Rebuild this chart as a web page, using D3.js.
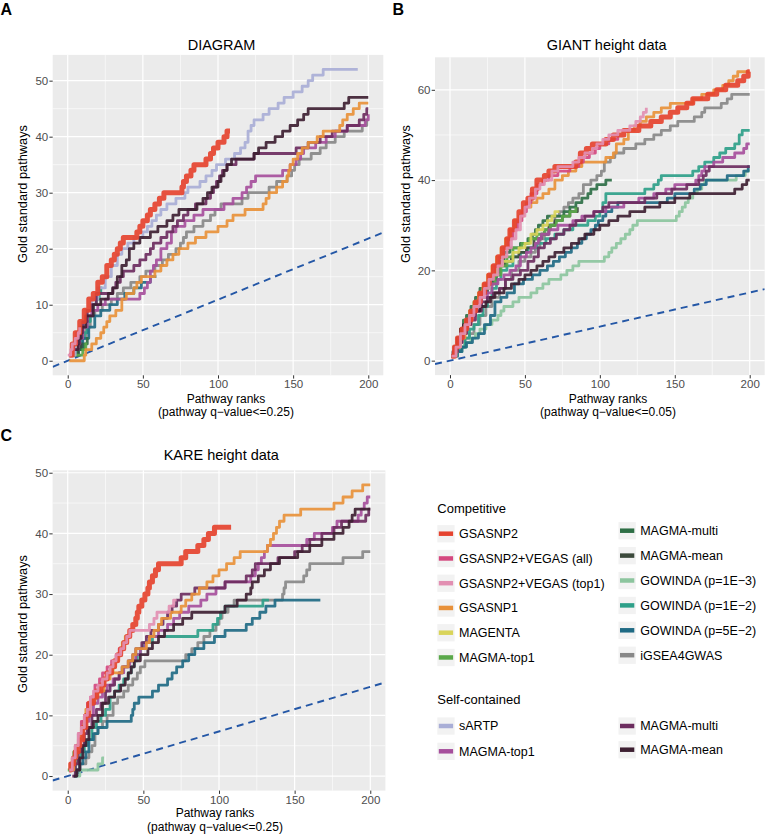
<!DOCTYPE html>
<html><head><meta charset="utf-8">
<script src="https://cdn.jsdelivr.net/npm/d3@7"></script>
<style>body{margin:0;background:#fff}svg{display:block}text{font-family:"Liberation Sans",Arial,Helvetica,sans-serif}</style>
</head><body><svg id="c" width="765" height="836"></svg>
<script>
// ---------------- DATA ----------------
const methodKeys = ["gsasnp2","vegasAll","vegasTop1","gsasnp1","magenta","magmaTop1C","magmaMultiC","magmaMeanC","gow3","gow2","gow5","igsea","sartp","magmaTop1S","magmaMultiS","magmaMeanS"];
const methodLabels = ["GSASNP2","GSASNP2+VEGAS (all)","GSASNP2+VEGAS (top1)","GSASNP1","MAGENTA","MAGMA-top1","MAGMA-multi","MAGMA-mean","GOWINDA (p=1E\u22123)","GOWINDA (p=1E\u22122)","GOWINDA (p=5E\u22122)","iGSEA4GWAS","sARTP","MAGMA-top1","MAGMA-multi","MAGMA-mean"];
const methodColors = ["#E5432F","#D4487F","#E28FB2","#E8913A","#D9D45A","#5AA84A","#2E6F46","#3C4A3C","#8CC59E","#2EA089","#1F6A84","#888888","#A9AED6","#A64F9C","#6C2D5F","#3E2032"];
const competitiveKeys = methodKeys.slice(0,12);
const selfKeys = methodKeys.slice(12);
const drawOrder = ["igsea","gow3","gow2","gow5","magmaMeanC","magmaMultiC","magmaTop1C","magenta","sartp","magmaTop1S","magmaMultiS","magmaMeanS","gsasnp1","vegasAll","gsasnp2","vegasTop1"];

const panelTitles = ["DIAGRAM","GIANT height data","KARE height data"];
const panelLetters = ["A","B","C"];
const xTitle = "Pathway ranks";
const xSubtitles = ["(pathway q\u2212value<=0.25)","(pathway q\u2212value<=0.05)","(pathway q\u2212value<=0.25)"];
const yTitle = "Gold standard pathways";
const xTicks = [0,50,100,150,200];
const yTicksA = [0,10,20,30,40,50];
const yTicksB = [0,20,40,60];
const yTicksC = [0,10,20,30,40,50];
const randomSlopes = [0.109,0.0755,0.0735];

// Panel A: DIAGRAM  ([rank, cumulative gold-standard count] step points)
const A_gsasnp2 = [[1,1],[3,3],[5,5],[8,7],[11,9],[14,11],[17,12],[20,14],[23,15],[26,17],[29,18],[31,19],[33,20],[35,21],[37,22],[46,23],[48,24],[50,25],[53,26],[55,27],[58,28],[61,29],[64,30],[76,31],[77,32],[79,33],[82,34],[84,35],[92,36],[95,37],[97,38],[100,39],[104,40],[106,41],[108,41]];
const A_vegasAll = [[1,1],[3,2],[4,3],[6,5],[7,5]];
const A_vegasTop1 = [[0,1],[2,2],[3,3],[5,4],[7,5],[8,6]];
const A_gsasnp1 = [[1,0],[11,1],[12,2],[16,3],[19,4],[22,5],[24,6],[26,7],[28,8],[32,9],[36,11],[39,12],[44,13],[46,14],[49,15],[58,16],[62,17],[66,18],[70,19],[74,20],[80,21],[85,22],[92,23],[100,24],[106,25],[110,26],[118,27],[130,28],[132,29],[134,30],[139,31],[143,32],[146,33],[147,34],[148,35],[150,36],[153,37],[156,38],[160,39],[166,40],[170,41],[181,42],[183,43],[186,44],[190,45],[194,46],[200,46]];
const A_magenta = [[1,1],[3,2],[5,4],[6,4]];
const A_magmaTop1C = [[3,1],[8,1],[10,2],[12,3],[13,3]];
const A_magmaMultiC = [[3,1],[6,2],[9,2],[11,3],[13,4],[14,4]];
const A_magmaMeanC = [[4,1],[7,2],[9,3],[10,3]];
const A_gow3 = [];
const A_gow2 = [[4,1],[7,2],[9,4],[11,5],[13,7],[15,8],[17,10],[19,11],[21,12],[22,13],[23,13]];
const A_gow5 = [[4,1],[7,2],[10,4],[14,6],[18,8],[22,9],[28,10],[33,11],[38,12],[44,13],[49,14],[55,15],[59,15]];
const A_igsea = [[6,2],[9,4],[12,6],[15,8],[18,9],[23,10],[29,11],[33,12],[37,13],[42,14],[48,15],[52,16],[58,17],[63,18],[67,19],[72,20],[75,21],[77,22],[79,23],[84,24],[90,25],[95,26],[98,27],[102,28],[116,29],[120,30],[134,31],[139,32],[146,33],[149,34],[151,35],[154,36],[162,37],[168,38],[172,39],[178,40],[184,41],[196,42],[199,43],[200,43]];
const A_sartp = [[3,1],[5,3],[8,6],[12,9],[16,11],[20,13],[25,15],[29,17],[33,19],[36,20],[40,21],[44,22],[50,23],[53,24],[56,25],[59,26],[62,27],[66,28],[72,29],[78,30],[80,31],[88,32],[92,33],[96,34],[99,35],[105,36],[111,37],[115,38],[118,39],[120,41],[122,42],[124,43],[130,44],[134,45],[140,46],[144,47],[150,48],[156,49],[160,50],[163,51],[170,52],[193,52]];
const A_magmaTop1S = [[4,2],[7,4],[10,6],[13,8],[16,9],[20,10],[25,11],[48,12],[51,13],[53,14],[55,16],[57,17],[59,18],[62,20],[66,21],[69,23],[72,24],[78,25],[84,26],[90,27],[104,28],[110,29],[116,30],[119,31],[122,32],[125,33],[143,34],[148,35],[152,36],[155,37],[157,38],[165,39],[172,40],[178,41],[186,42],[198,43],[200,44]];
const A_magmaMultiS = [[6,3],[8,5],[10,7],[13,9],[16,10],[19,12],[30,13],[32,14],[35,15],[37,16],[44,17],[48,18],[52,19],[55,20],[57,21],[62,22],[66,23],[70,24],[73,25],[77,26],[80,27],[85,28],[92,29],[95,30],[97,31],[99,32],[101,33],[103,34],[106,35],[112,36],[124,37],[152,38],[160,39],[168,40],[176,41],[186,42],[194,43],[197,44],[199,45],[200,45]];
const A_magmaMeanS = [[5,2],[7,4],[9,6],[12,8],[17,10],[22,11],[27,12],[30,13],[33,15],[36,17],[39,18],[41,20],[44,21],[48,22],[55,23],[60,24],[66,25],[70,26],[74,27],[86,28],[90,29],[93,30],[96,31],[100,32],[102,33],[104,34],[106,35],[109,36],[124,37],[127,38],[132,39],[138,40],[143,41],[148,42],[153,43],[157,44],[160,45],[184,46],[187,47],[200,47]];

// Panel B: GIANT height data
const B_gsasnp2 = [[1,1],[3,3],[5,5],[8,7],[11,9],[14,11],[17,13],[20,15],[23,17],[26,19],[29,21],[32,23],[35,25],[38,27],[40,29],[43,31],[46,33],[49,35],[52,36],[55,38],[58,40],[63,41],[66,42],[70,43],[84,44],[87,46],[91,47],[95,48],[104,49],[109,50],[116,51],[126,52],[134,53],[141,54],[147,55],[152,56],[158,57],[162,58],[172,59],[178,60],[184,61],[192,62],[196,63],[199,64],[200,64]];
const B_vegasAll = [[1,1],[3,3],[6,5],[9,7],[12,9],[15,11],[18,13],[21,15],[24,17],[27,19],[30,21],[33,23],[36,25],[39,27],[42,29],[45,31],[48,33],[51,35],[54,37],[58,39],[62,40],[66,41],[72,42],[80,43],[86,44],[89,45],[93,46],[97,47],[100,48],[106,49],[112,50]];
const B_vegasTop1 = [[1,1],[4,3],[7,6],[10,8],[13,10],[16,12],[20,14],[23,16],[26,18],[29,19],[32,21],[35,23],[38,25],[41,27],[44,29],[47,32],[50,34],[53,36],[57,38],[60,39],[63,40],[68,42],[72,43],[82,44],[86,45],[90,46],[95,47],[98,48],[102,49],[106,50],[112,51],[120,52],[124,53],[127,54],[129,55],[131,56]];
const B_gsasnp1 = [[1,1],[4,3],[7,5],[10,8],[13,11],[16,13],[19,15],[22,17],[25,19],[28,21],[31,23],[34,25],[37,27],[40,29],[43,31],[46,32],[49,34],[54,35],[58,36],[62,37],[66,38],[70,40],[75,41],[79,42],[84,43],[88,44],[104,45],[109,46],[111,48],[116,49],[119,51],[123,52],[127,53],[131,54],[136,55],[141,56],[147,57],[162,58],[168,59],[176,60],[182,61],[186,62],[189,63],[192,64],[200,64]];
const B_magenta = [[1,1],[3,2],[5,4],[8,6],[11,8],[14,10],[17,13],[20,15],[23,17],[27,19],[31,21],[35,22],[42,24],[46,25],[50,26],[54,28],[58,29],[62,30],[65,31],[68,32],[70,33],[73,33]];
const B_magmaTop1C = [[1,1],[3,3],[5,5],[7,7],[10,9],[13,11],[16,13],[19,15],[22,16],[26,17],[30,19],[34,21],[38,23],[42,25],[48,26],[53,27],[58,28],[63,29],[67,30],[71,31],[75,32],[80,33],[84,34]];
const B_magmaMultiC = [[1,1],[3,3],[5,5],[7,7],[9,9],[11,10],[14,12],[17,14],[20,16],[24,17],[28,18],[31,20],[33,22],[36,24],[40,25],[47,26],[52,27],[55,28],[57,29],[59,30],[62,31],[65,32],[76,33],[80,34],[84,35],[88,36],[92,37],[94,38],[98,39],[104,40],[108,40]];
const B_magmaMeanC = [[1,1],[3,3],[5,5],[8,7],[11,9],[14,11],[17,13],[21,15],[25,17],[29,19],[33,21],[37,22],[41,23],[46,24],[51,25],[56,27],[61,28],[66,30],[70,31],[75,32],[80,33],[85,34]];
const B_gow3 = [[3,1],[5,2],[8,3],[11,4],[14,5],[17,6],[20,7],[24,8],[28,9],[32,10],[34,11],[36,12],[42,13],[46,14],[54,15],[58,16],[62,17],[66,18],[74,19],[78,20],[82,21],[86,22],[103,23],[106,24],[108,25],[111,26],[114,27],[117,28],[120,29],[122,30],[125,31],[151,32],[153,33],[155,34],[157,35],[159,36],[162,37],[165,38],[168,39],[170,40],[191,41],[197,42],[200,42]];
const B_gow2 = [[2,1],[4,2],[7,3],[10,5],[13,7],[16,8],[19,10],[22,12],[25,14],[28,16],[31,18],[34,20],[38,21],[42,23],[47,24],[52,25],[58,26],[64,27],[70,28],[76,29],[82,30],[92,31],[97,32],[100,33],[102,35],[104,37],[130,38],[136,39],[139,40],[141,41],[162,42],[166,43],[170,44],[176,45],[180,46],[184,47],[190,48],[193,50],[195,51],[200,51]];
const B_gow5 = [[3,1],[5,2],[8,3],[11,4],[15,5],[19,6],[23,8],[27,10],[30,13],[34,14],[38,15],[43,17],[49,18],[55,19],[60,20],[65,21],[69,22],[73,23],[77,24],[81,25],[85,26],[88,27],[91,28],[94,29],[97,30],[99,31],[102,32],[104,33],[108,34],[112,35],[145,36],[150,37],[163,38],[167,39],[171,40],[185,41],[196,42],[199,43],[200,43]];
const B_igsea = [[2,1],[4,2],[7,3],[10,5],[13,6],[16,8],[20,10],[24,12],[28,14],[33,16],[37,18],[41,20],[46,22],[50,23],[54,24],[57,25],[60,27],[63,29],[67,30],[70,32],[73,33],[76,34],[79,35],[82,36],[86,37],[89,39],[94,40],[98,41],[101,42],[103,44],[107,45],[110,46],[116,47],[124,48],[130,49],[136,50],[141,51],[147,52],[152,53],[163,54],[168,55],[170,56],[181,57],[185,58],[188,59],[200,59]];
const B_sartp = [];
const B_magmaTop1S = [[1,1],[3,2],[5,4],[8,6],[11,8],[14,10],[17,12],[21,14],[25,15],[28,17],[32,18],[36,19],[40,20],[44,21],[47,23],[51,24],[54,25],[57,26],[59,27],[61,28],[66,29],[72,30],[82,31],[88,32],[96,33],[104,34],[116,35],[126,36],[136,37],[144,38],[150,39],[164,40],[166,41],[168,42],[170,43],[176,44],[182,45],[190,46],[196,47],[198,48],[200,48]];
const B_magmaMultiS = [[1,1],[3,2],[5,4],[8,6],[11,8],[14,9],[17,11],[21,13],[25,14],[29,15],[33,16],[37,18],[42,19],[47,20],[52,22],[56,23],[59,25],[63,26],[67,27],[71,28],[76,29],[80,30],[84,31],[90,32],[96,33],[102,34],[106,35],[130,36],[138,37],[148,38],[158,39],[166,40],[169,41],[171,42],[173,43],[200,43]];
const B_magmaMeanS = [[1,1],[2,2],[3,3],[5,5],[7,7],[9,8],[11,9],[13,10],[15,11],[20,12],[24,13],[27,14],[30,15],[36,16],[41,17],[46,18],[50,19],[54,20],[58,21],[62,22],[66,23],[70,24],[76,25],[81,26],[86,27],[90,28],[96,29],[100,30],[106,31],[112,32],[120,33],[130,34],[140,35],[150,36],[160,37],[190,38],[195,39],[198,40],[200,40]];

// Panel C: KARE height data
const C_gsasnp2 = [[1,1],[2,2],[4,3],[5,4],[7,5],[8,6],[10,8],[12,10],[14,12],[17,13],[19,14],[22,15],[24,16],[26,17],[29,18],[31,19],[33,20],[35,21],[37,22],[39,23],[41,24],[43,25],[45,26],[46,27],[47,28],[49,29],[51,30],[53,31],[54,32],[56,33],[58,34],[60,35],[75,36],[78,37],[86,38],[90,39],[93,40],[97,41],[108,41]];
const C_vegasAll = [[1,1],[3,3],[5,5],[7,7],[9,9],[11,10],[13,12],[15,13],[18,15],[21,16],[23,17],[26,18],[29,19],[32,20],[34,21],[37,21]];
const C_vegasTop1 = [[1,1],[3,3],[5,5],[7,7],[9,8],[11,10],[13,11],[15,13],[17,14],[20,15],[23,16],[26,17],[28,18],[30,19],[32,20],[35,21],[37,22],[39,23],[41,24],[54,25],[57,26],[59,27],[67,28],[70,29],[72,29]];
const C_gsasnp1 = [[2,1],[4,3],[6,5],[8,7],[10,9],[12,11],[14,12],[17,13],[20,14],[24,16],[28,17],[36,18],[40,19],[43,20],[45,21],[52,22],[54,23],[57,24],[60,25],[62,26],[68,27],[75,28],[78,29],[82,30],[87,31],[92,32],[96,33],[100,34],[105,35],[110,36],[114,37],[132,38],[134,39],[136,40],[138,41],[140,42],[143,43],[154,44],[176,45],[182,46],[188,47],[195,48],[200,48]];
const C_magenta = [[1,1],[3,3],[5,5],[7,6],[9,8],[11,10],[13,11],[15,12],[18,14],[21,15],[24,16],[27,17],[30,19],[33,20],[35,21],[36,22],[38,23],[39,23]];
const C_magmaTop1C = [[0,1],[2,2],[4,4],[6,5],[8,6],[9,6]];
const C_magmaMultiC = [[1,1],[3,2],[5,3],[6,3]];
const C_magmaMeanC = [];
const C_gow3 = [[5,0],[8,1],[14,1],[20,2],[23,3],[24,3]];
const C_gow2 = [[3,1],[5,2],[7,3],[9,4],[11,5],[13,6],[16,8],[19,9],[22,10],[25,11],[28,13],[31,14],[34,15],[37,16],[40,17],[42,18],[44,19],[46,20],[48,21],[50,22],[56,23],[86,24],[96,25],[99,26],[101,27],[104,28],[129,29],[133,29]];
const C_gow5 = [[4,0],[6,1],[8,2],[10,3],[12,4],[14,6],[17,7],[20,8],[26,9],[42,10],[43,11],[44,12],[47,13],[56,14],[60,15],[66,16],[69,17],[72,18],[76,19],[80,20],[84,21],[90,22],[97,23],[104,24],[118,25],[122,26],[127,27],[131,28],[137,29],[167,29]];
const C_igsea = [[4,0],[6,1],[8,2],[12,3],[14,4],[16,5],[18,7],[20,8],[23,9],[26,10],[30,12],[33,13],[37,14],[40,15],[43,16],[46,17],[48,18],[51,19],[78,20],[82,21],[86,22],[90,23],[94,24],[98,25],[100,26],[102,27],[106,28],[110,29],[142,30],[143,31],[144,32],[156,33],[158,34],[160,35],[182,36],[195,37],[200,37]];
const C_sartp = [];
const C_magmaTop1S = [[2,1],[4,3],[6,5],[8,6],[10,8],[12,9],[14,10],[17,12],[20,13],[23,14],[26,15],[30,16],[34,17],[37,18],[41,19],[45,20],[48,21],[51,22],[54,23],[60,24],[66,25],[70,26],[74,27],[80,28],[88,29],[92,30],[98,31],[104,32],[121,33],[124,34],[126,35],[128,36],[130,37],[132,38],[158,39],[163,40],[175,41],[178,42],[192,43],[194,44],[196,45],[198,46],[200,46]];
const C_magmaMultiS = [[3,0],[5,2],[7,4],[9,5],[11,7],[13,8],[16,10],[19,11],[22,12],[25,14],[28,15],[31,16],[34,17],[36,18],[40,19],[43,20],[45,21],[49,22],[52,23],[55,24],[60,25],[63,26],[66,27],[69,28],[72,29],[75,30],[84,31],[104,32],[118,33],[122,34],[124,35],[139,36],[150,37],[155,38],[160,39],[168,40],[176,41],[181,42],[197,43],[199,44],[200,44]];
const C_magmaMeanS = [[4,0],[6,1],[8,3],[10,5],[12,6],[14,8],[17,9],[20,10],[23,12],[27,13],[31,14],[35,15],[38,16],[40,17],[42,18],[44,19],[48,20],[53,21],[56,22],[60,23],[64,24],[70,25],[76,26],[82,27],[104,28],[112,29],[118,30],[121,31],[122,32],[126,33],[130,34],[134,35],[140,36],[152,37],[160,38],[168,39],[176,40],[182,41],[186,42],[188,43],[190,44],[200,44]];

// lookup tables built from the arrays above
const panelSeries = [
  {gsasnp2:A_gsasnp2,vegasAll:A_vegasAll,vegasTop1:A_vegasTop1,gsasnp1:A_gsasnp1,magenta:A_magenta,magmaTop1C:A_magmaTop1C,magmaMultiC:A_magmaMultiC,magmaMeanC:A_magmaMeanC,gow3:A_gow3,gow2:A_gow2,gow5:A_gow5,igsea:A_igsea,sartp:A_sartp,magmaTop1S:A_magmaTop1S,magmaMultiS:A_magmaMultiS,magmaMeanS:A_magmaMeanS},
  {gsasnp2:B_gsasnp2,vegasAll:B_vegasAll,vegasTop1:B_vegasTop1,gsasnp1:B_gsasnp1,magenta:B_magenta,magmaTop1C:B_magmaTop1C,magmaMultiC:B_magmaMultiC,magmaMeanC:B_magmaMeanC,gow3:B_gow3,gow2:B_gow2,gow5:B_gow5,igsea:B_igsea,sartp:B_sartp,magmaTop1S:B_magmaTop1S,magmaMultiS:B_magmaMultiS,magmaMeanS:B_magmaMeanS},
  {gsasnp2:C_gsasnp2,vegasAll:C_vegasAll,vegasTop1:C_vegasTop1,gsasnp1:C_gsasnp1,magenta:C_magenta,magmaTop1C:C_magmaTop1C,magmaMultiC:C_magmaMultiC,magmaMeanC:C_magmaMeanC,gow3:C_gow3,gow2:C_gow2,gow5:C_gow5,igsea:C_igsea,sartp:C_sartp,magmaTop1S:C_magmaTop1S,magmaMultiS:C_magmaMultiS,magmaMeanS:C_magmaMeanS}
];
const panelYTicks = [yTicksA, yTicksB, yTicksC];
const colorOf = {}; methodKeys.forEach((k,i)=>colorOf[k]=methodColors[i]);
const labelOf = {}; methodKeys.forEach((k,i)=>labelOf[k]=methodLabels[i]);

// ---------------- LAYOUT ----------------
const layout = [
  {x0:52.7, x1:383.3, y0:54.9, y1:375.3, letter:[0.5,15], title:[221.5,50], xlab:[226,402.5,416], ylab:[26.5,194]},
  {x0:435,  x1:764.7, y0:57.3, y1:375.1, letter:[392.5,15], title:[606.7,49.5], xlab:[608,402.5,416], ylab:[410,194]},
  {x0:52.6, x1:385.4, y0:470.3, y1:790.6, letter:[0.5,440.7], title:[221.3,460], xlab:[215,817,830.5], ylab:[26.5,624]}
];

const svg = d3.select("#c");
const tickCol = "#4D4D4D";

layout.forEach((L, p) => {
  const series = panelSeries[p];
  const xMax = d3.max(xTicks);
  const yMax = d3.max(methodKeys, k => d3.max(series[k], d => d[1]) || 0);
  const x = d3.scaleLinear().domain([-0.05*xMax, 1.05*xMax]).range([L.x0, L.x1]);
  const y = d3.scaleLinear().domain([-0.05*yMax, 1.05*yMax]).range([L.y1, L.y0]);
  const g = svg.append("g");

  g.append("rect").attr("x",L.x0).attr("y",L.y0).attr("width",L.x1-L.x0).attr("height",L.y1-L.y0).attr("fill","#EBEBEB");

  const yt = panelYTicks[p];
  const yStep = yt[1]-yt[0];
  const yMinor = yt.map(v=>v+yStep/2).filter(v=>v<y.domain()[1]);
  const xStep = xTicks[1]-xTicks[0];
  const xMinor = xTicks.map(v=>v+xStep/2).filter(v=>v<x.domain()[1]);

  g.selectAll(".ymin").data(yMinor).join("line").attr("x1",L.x0).attr("x2",L.x1)
    .attr("y1",d=>y(d)).attr("y2",d=>y(d)).attr("stroke","#fff").attr("stroke-width",0.6);
  g.selectAll(".xmin").data(xMinor).join("line").attr("y1",L.y0).attr("y2",L.y1)
    .attr("x1",d=>x(d)).attr("x2",d=>x(d)).attr("stroke","#fff").attr("stroke-width",0.6);
  g.selectAll(".ymaj").data(yt).join("line").attr("x1",L.x0).attr("x2",L.x1)
    .attr("y1",d=>y(d)).attr("y2",d=>y(d)).attr("stroke","#fff").attr("stroke-width",1.2);
  g.selectAll(".xmaj").data(xTicks).join("line").attr("y1",L.y0).attr("y2",L.y1)
    .attr("x1",d=>x(d)).attr("x2",d=>x(d)).attr("stroke","#fff").attr("stroke-width",1.2);

  const clipId = "clip"+p;
  svg.append("clipPath").attr("id",clipId).append("rect")
    .attr("x",L.x0).attr("y",L.y0).attr("width",L.x1-L.x0).attr("height",L.y1-L.y0);
  const plot = g.append("g").attr("clip-path",`url(#${clipId})`);

  // random expectation line
  const xd = x.domain();
  plot.append("line").attr("x1",x(xd[0])).attr("y1",y(randomSlopes[p]*xd[0]))
    .attr("x2",x(xd[1])).attr("y2",y(randomSlopes[p]*xd[1]))
    .attr("stroke","#2457A6").attr("stroke-width",1.9).attr("stroke-dasharray","7,5");

  const line = d3.line().x(d=>x(d[0])).y(d=>y(d[1])).curve(d3.curveStepAfter);
  drawOrder.forEach(k => {
    const d = series[k];
    if (!d || d.length < 2) return;
    plot.append("path").attr("d",line(d)).attr("fill","none")
      .attr("stroke",colorOf[k]).attr("stroke-opacity",0.92)
      .attr("stroke-width", k==="gsasnp2" ? 5 : 2.8)
      .attr("stroke-linejoin","round");
  });

  // axes
  const ax = g.append("g").attr("transform",`translate(0,${L.y1})`)
    .call(d3.axisBottom(x).tickValues(xTicks).tickSize(3.3).tickPadding(1.6));
  const ay = g.append("g").attr("transform",`translate(${L.x0},0)`)
    .call(d3.axisLeft(y).tickValues(yt).tickSize(3.3).tickPadding(1.2));
  [ax,ay].forEach(a=>{
    a.select(".domain").remove();
    a.selectAll(".tick line").attr("stroke","#333").attr("stroke-width",1);
    a.selectAll(".tick text").attr("fill",tickCol).attr("font-size","11.5px")
      .attr("font-family",'"Liberation Sans",Arial,sans-serif');
  });

  // titles
  svg.append("text").attr("x",L.letter[0]).attr("y",L.letter[1]).text(panelLetters[p])
    .attr("font-size","16px").attr("font-weight","bold").attr("fill","#000");
  svg.append("text").attr("x",L.title[0]).attr("y",L.title[1]).text(panelTitles[p])
    .attr("text-anchor","middle").attr("font-size","14.5px").attr("fill","#000");
  svg.append("text").attr("x",L.xlab[0]).attr("y",L.xlab[1]).text(xTitle)
    .attr("text-anchor","middle").attr("font-size","12px").attr("fill","#000");
  svg.append("text").attr("x",L.xlab[0]).attr("y",L.xlab[2]).text(xSubtitles[p])
    .attr("text-anchor","middle").attr("font-size","12px").attr("fill","#000");
  svg.append("text").attr("transform",`translate(${L.ylab[0]},${L.ylab[1]}) rotate(-90)`).text(yTitle)
    .attr("text-anchor","middle").attr("font-size","12.8px").attr("fill","#000");
});

// ---------------- LEGEND ----------------
const leg = svg.append("g");
function legendTitle(txt, xx, yy){
  leg.append("text").attr("x",xx).attr("y",yy).text(txt).attr("font-size","13px").attr("fill","#000");
}
function legendItem(k, kx, cy){
  leg.append("rect").attr("x",kx).attr("y",cy-8.6).attr("width",17.3).attr("height",17.3).attr("fill","#F2F2F2");
  leg.append("line").attr("x1",kx+1.5).attr("x2",kx+15.8).attr("y1",cy).attr("y2",cy)
    .attr("stroke",colorOf[k]).attr("stroke-width",4.5);
  leg.append("text").attr("x",kx+21.7).attr("y",cy+4.4).text(labelOf[k]).attr("font-size","12.5px").attr("fill","#000");
}
legendTitle("Competitive",437.3,513);
competitiveKeys.forEach((k,i)=>{
  if (i<6) legendItem(k,437.3,533.7+i*24.75);
  else legendItem(k,618.5,530.7+(i-6)*24.9);
});
legendTitle("Self-contained",437.3,704);
selfKeys.forEach((k,i)=>{
  if (i<2) legendItem(k,437.3,726+i*25.3);
  else legendItem(k,618.5,726+(i-2)*23.7);
});
</script></body></html>
